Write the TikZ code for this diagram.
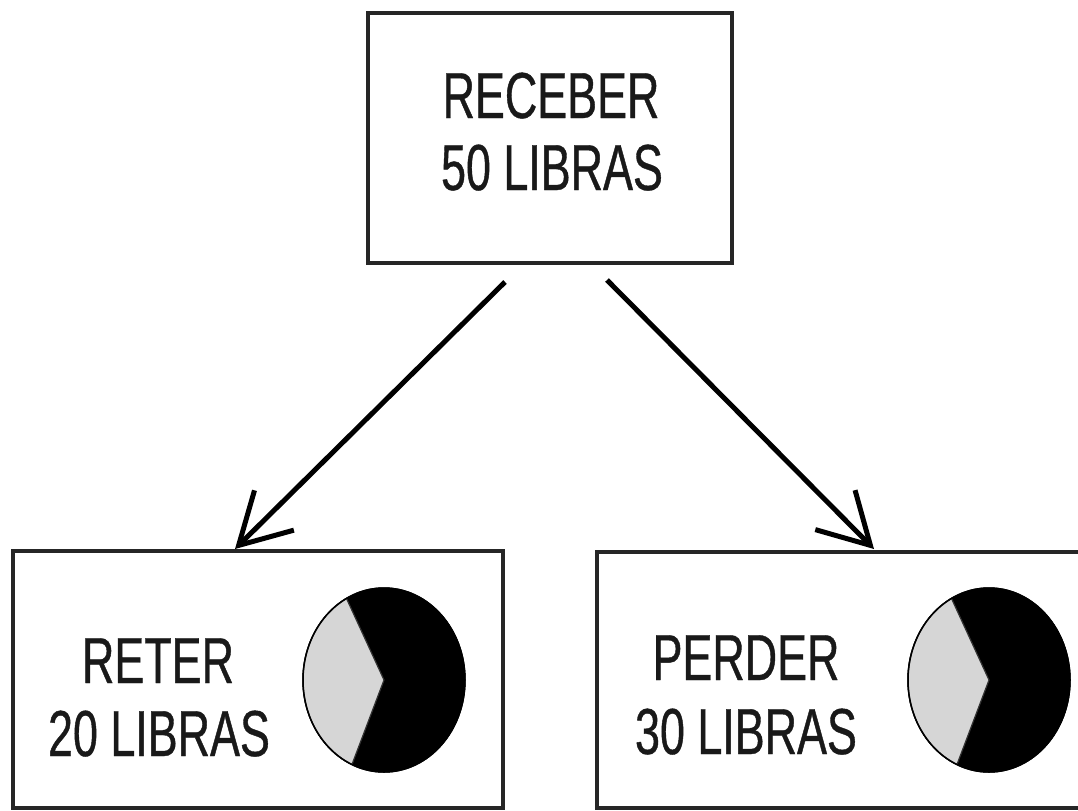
\documentclass[tikz,border=0pt]{standalone}
\usepackage{fontspec}
\setmainfont[FakeStretch=0.69,FakeBold=0.6]{Liberation Sans}
\usetikzlibrary{arrows.meta,calc}
\begin{document}
\begin{tikzpicture}[x=1bp,y=-1bp,
  boxstyle/.style={draw=black!85,line width=3.2bp,rectangle,inner sep=0pt},
  lbl/.style={inner sep=0pt,anchor=base,font=\fontsize{65bp}{74bp}\selectfont,text=black!90},
  arr/.style={line width=5bp,-{Straight Barb[length=50bp,width=56bp,line width=5bp]}},
  piegray/.style={fill=black!16,draw=black!80,line width=1.2bp},
  pieblack/.style={fill=black,draw=black,line width=1.5bp}]
\useasboundingbox (0,0) rectangle (1078,811);
% boxes
\node[boxstyle,minimum width=364bp,minimum height=250bp] (top) at (550,138) {};
\node[boxstyle,minimum width=490bp,minimum height=257bp] (left) at (258,679.5) {};
\node[boxstyle,minimum width=510bp,minimum height=256bp] (right) at (852,680) {};
% texts
\node[lbl] (t1) at (551,118) {RECEBER};
\node[lbl] (t2) at (552,190) {50 LIBRAS};
\node[lbl] (l1) at (158,683) {RETER};
\node[lbl] (l2) at (159,756) {20 LIBRAS};
\node[lbl] (r1) at (746,680) {PERDER};
\node[lbl] (r2) at (746,754) {30 LIBRAS};
% arrows
\coordinate (s1) at (505,282);
\coordinate (e1) at (235,549);
\coordinate (s2) at (607,280);
\coordinate (e2) at (874,549);
\draw[arr] (s1) -- (e1);
\draw[arr] (s2) -- (e2);
% pies
\coordinate (pc1) at (384,680);
\coordinate (pc2) at (989,680);
\foreach \c in {pc1,pc2}{
  \fill[pieblack] (\c) ellipse[x radius=81, y radius=92];
  \draw[piegray] (\c) -- ($(\c)+(-117.6:81 and 92)$) arc[start angle=-117.6,end angle=-246.7,x radius=81,y radius=92] -- cycle;
  \draw[black,line width=1.5bp] (\c) ellipse[x radius=81, y radius=92];
}
\end{tikzpicture}
\end{document}
